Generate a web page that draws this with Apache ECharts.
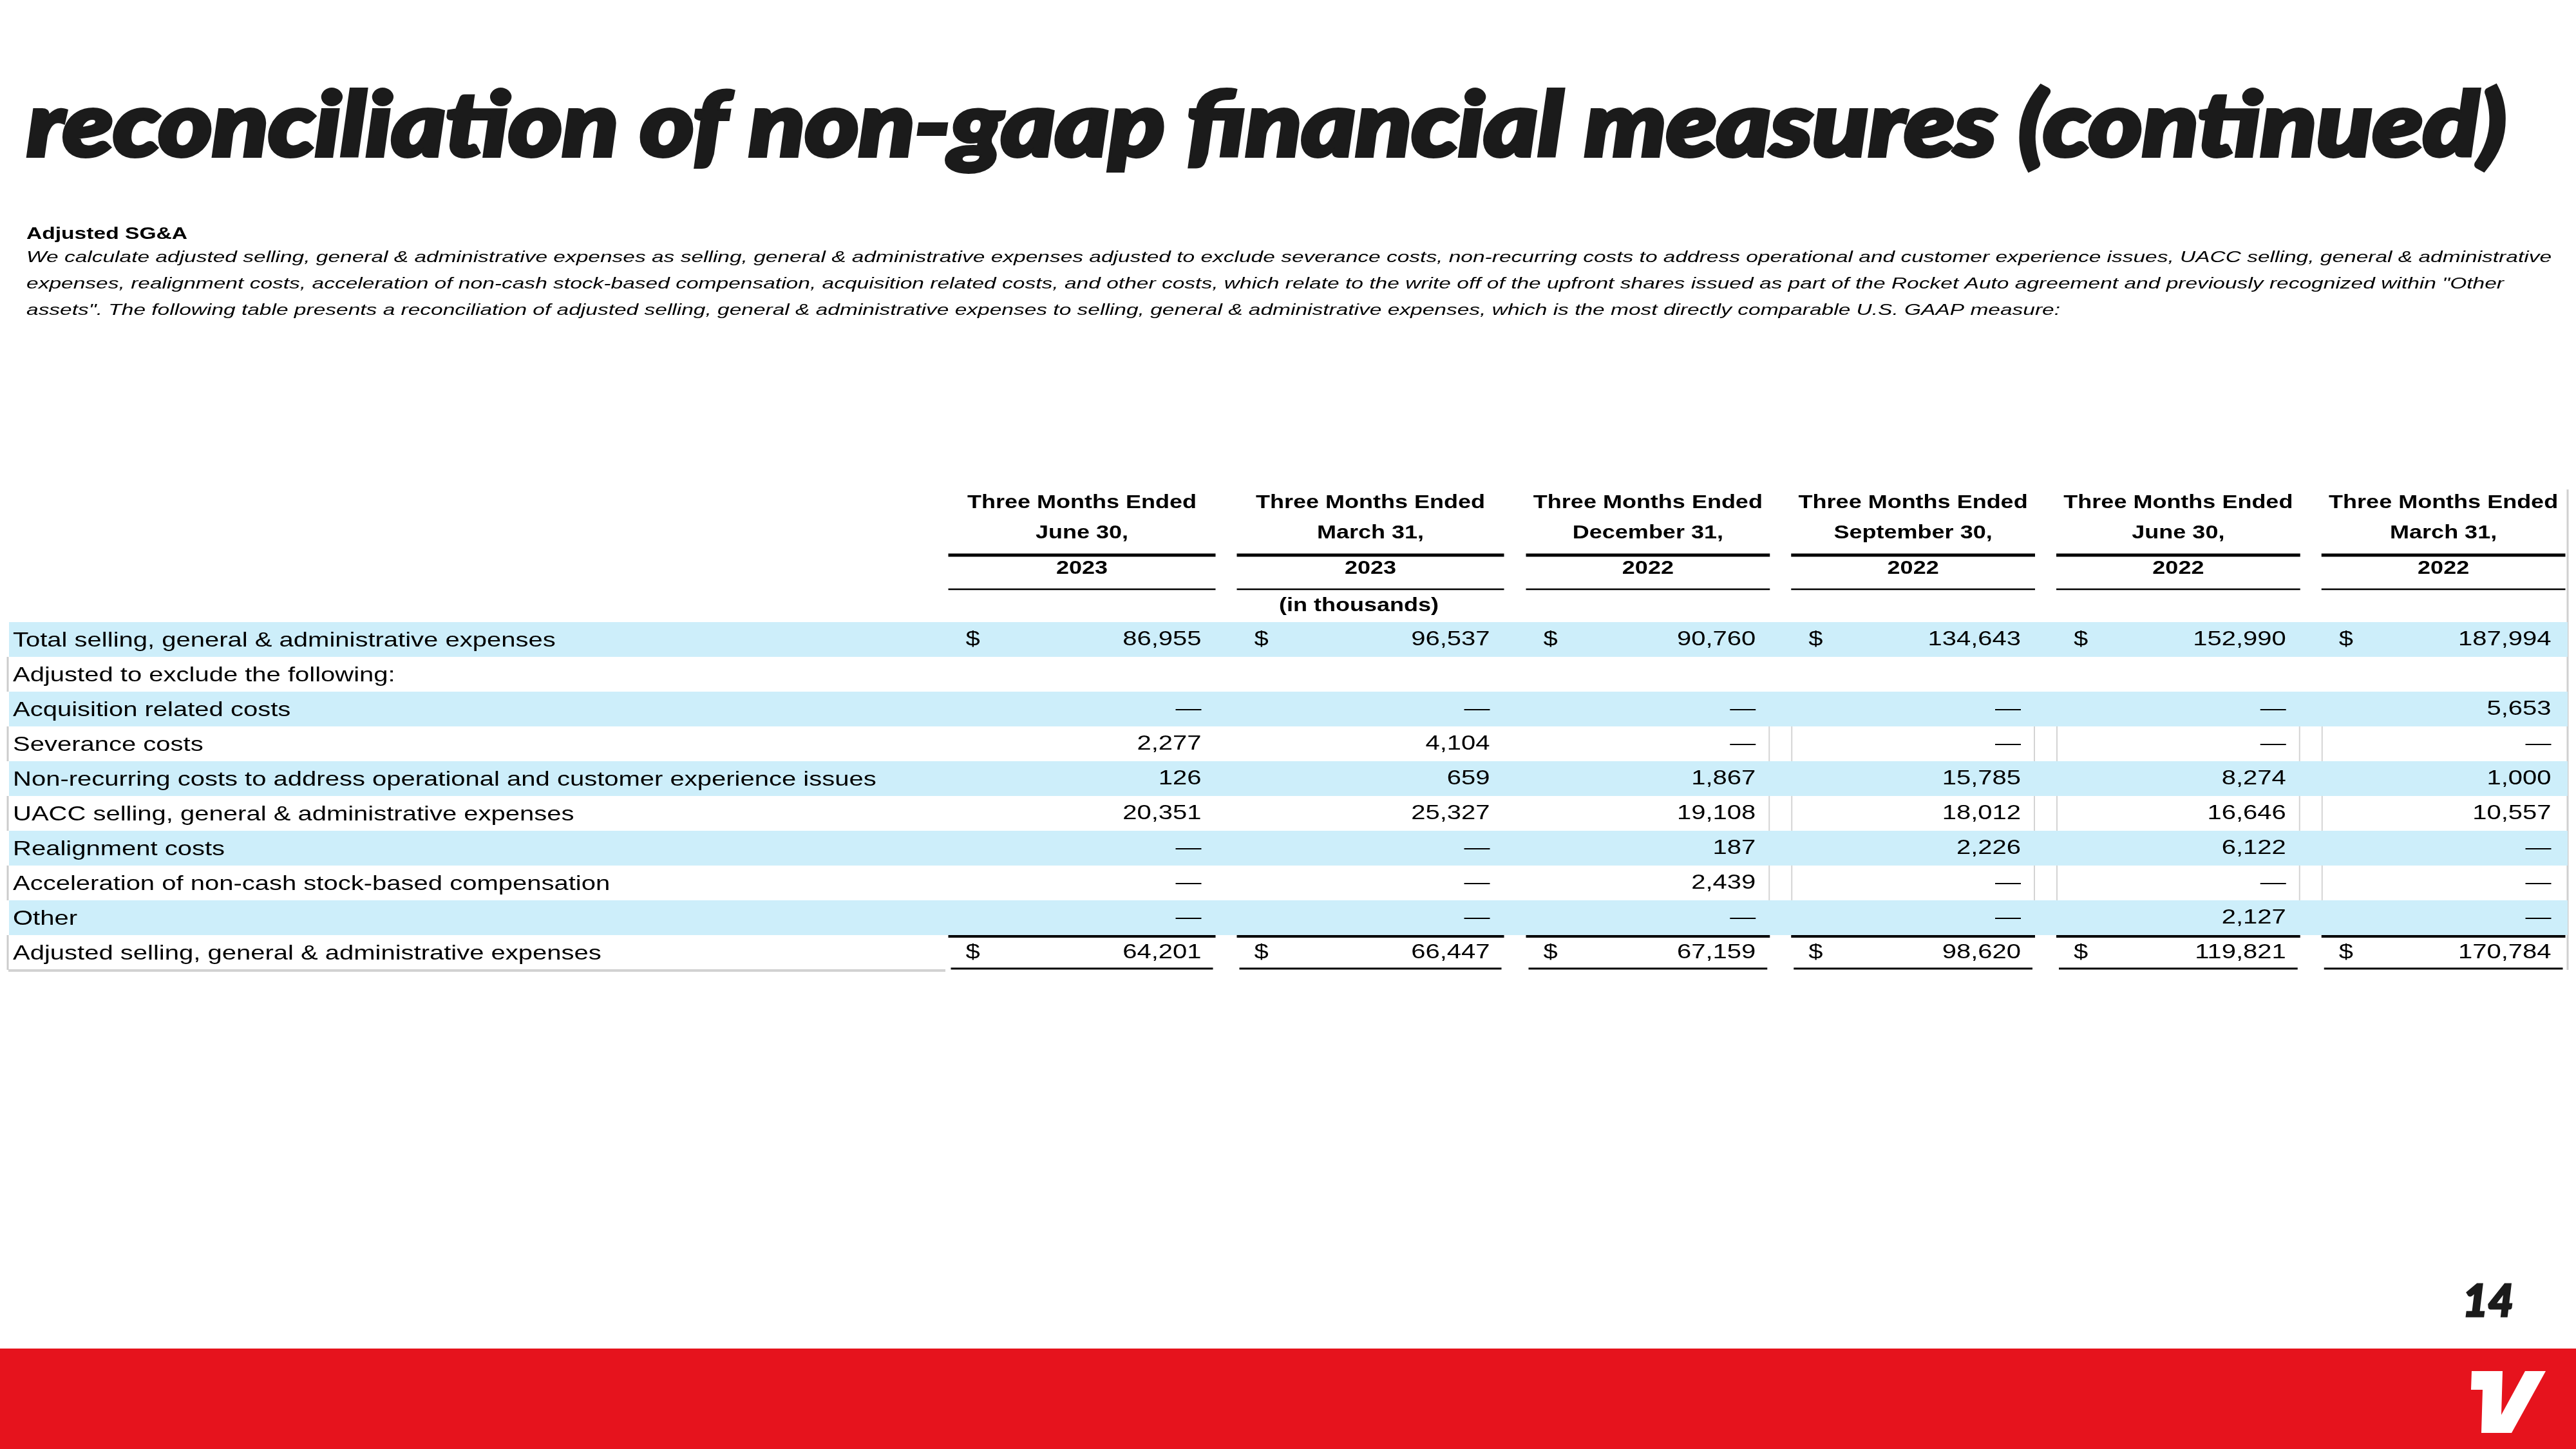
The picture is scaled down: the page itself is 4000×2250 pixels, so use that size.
<!DOCTYPE html>
<html>
<head>
<meta charset="utf-8">
<title>reconciliation of non-gaap financial measures (continued)</title>
<script src="https://cdn.jsdelivr.net/npm/echarts@6/dist/echarts.min.js"></script>
<style>
	html, body { margin: 0; padding: 0; background: #fff; }
	#chart { width: 4000px; height: 2250px; }
</style>
</head>
<body>
<div id="chart"></div>
<script>
	// ---- data (in thousands) ----
	var periods = ['June 30,', 'March 31,', 'December 31,', 'September 30,', 'June 30,', 'March 31,'];
	var years = ['2023', '2023', '2022', '2022', '2022', '2022'];
	var rowLabels = [
		'Total selling, general & administrative expenses',
		'Adjusted to exclude the following:',
		'Acquisition related costs',
		'Severance costs',
		'Non-recurring costs to address operational and customer experience issues',
		'UACC selling, general & administrative expenses',
		'Realignment costs',
		'Acceleration of non-cash stock-based compensation',
		'Other',
		'Adjusted selling, general & administrative expenses'
	];
	var totalSGA = [86955, 96537, 90760, 134643, 152990, 187994];
	var acquisitionCosts = [null, null, null, null, null, 5653];
	var severanceCosts = [2277, 4104, null, null, null, null];
	var nonRecurringCosts = [126, 659, 1867, 15785, 8274, 1000];
	var uaccSGA = [20351, 25327, 19108, 18012, 16646, 10557];
	var realignmentCosts = [null, null, 187, 2226, 6122, null];
	var stockCompAcceleration = [null, null, 2439, null, null, null];
	var otherCosts = [null, null, null, null, 2127, null];
	var adjustedSGA = [64201, 66447, 67159, 98620, 119821, 170784];

	var rowValues = [totalSGA, null, acquisitionCosts, severanceCosts, nonRecurringCosts,
		uaccSGA, realignmentCosts, stockCompAcceleration, otherCosts, adjustedSGA];
	var shadedRows = [0, 2, 4, 6, 8];
	var dollarRows = [0, 9];
	var ruledRows = [3, 5, 7];

	var titleText = 'reconciliation of non-gaap financial measures (continued)';
	var introHeading = 'Adjusted SG&A';
	var introLines = [
		'We calculate adjusted selling, general & administrative expenses as selling, general & administrative expenses adjusted to exclude severance costs, non-recurring costs to address operational and customer experience issues, UACC selling, general & administrative',
		'expenses, realignment costs, acceleration of non-cash stock-based compensation, acquisition related costs, and other costs, which relate to the write off of the upfront shares issued as part of the Rocket Auto agreement and previously recognized within "Other',
		'assets". The following table presents a reconciliation of adjusted selling, general & administrative expenses to selling, general & administrative expenses, which is the most directly comparable U.S. GAAP measure:'
	];
	var pageNo = '14';

	// ---- layout ----
	var TABLE_LEFT = 13, TABLE_RIGHT = 3987;
	var COL_GAP = 33;
	var BAND = '#cdeefa';
	var FONT = '"Liberation Sans", Arial, sans-serif';
	var STRETCH = 1.25;
	var RED = '#e6131d';
	var INK = '#1b1b1b';

	var ctx = document.createElement('canvas').getContext('2d');
	function fit(str, font, width) {
		ctx.font = font;
		return width / ctx.measureText(str).width;
	}
	function fmt(v) {
		return v == null ? '\u2014' : v.toLocaleString('en-US');
	}
	function txt(x, y, str, align, o) {
		o = o || {};
		return {
			type: 'text', x: x, y: y, scaleX: o.scaleX || STRETCH,
			style: {
				text: str, x: 0, y: 0, align: align, verticalAlign: 'middle',
				fontFamily: FONT, fontSize: o.size || 32, fontWeight: o.weight || 'normal',
				fill: '#000'
			}
		};
	}
	function hline(x1, x2, y, w, color) {
		return {type: 'line', shape: {x1: x1, y1: y, x2: x2, y2: y}, style: {stroke: color || '#000', lineWidth: w}};
	}
	function vline(x, y1, y2, w, color) {
		return {type: 'line', shape: {x1: x, y1: y1, x2: x, y2: y2}, style: {stroke: color || '#000', lineWidth: w}};
	}
	function colBox(api, col, row) {
		var c = api.coord([col, row]);
		var s = api.size([1, 1]);
		var w = s[0] - COL_GAP;
		return {cx: c[0], cy: c[1], left: c[0] - w / 2, right: c[0] + w / 2,
			top: c[1] - s[1] / 2, bottom: c[1] + s[1] / 2, rowH: s[1]};
	}

	// row bands + row labels
	function renderRow(params, api) {
		var row = api.value(1);
		var b = colBox(api, 0, row);
		var kids = [];
		if (shadedRows.indexOf(row) >= 0) {
			kids.push({type: 'rect', shape: {x: TABLE_LEFT + 1, y: b.top, width: TABLE_RIGHT - TABLE_LEFT - 1, height: b.rowH}, style: {fill: BAND}});
		} else {
			kids.push(vline(TABLE_LEFT - 1, b.top, b.bottom, 3, '#cccccc'));
		}
		kids.push(txt(TABLE_LEFT + 7, b.cy + 2, rowLabels[row], 'left'));
		if (row === rowLabels.length - 1) {
			kids.push(hline(TABLE_LEFT, 1468, b.bottom + 1, 4, '#d2d2d2'));
		}
		return {type: 'group', children: kids};
	}

	// values, $ signs, rules
	function renderCell(params, api) {
		var col = api.value(0), row = api.value(1), g = api.value(2);
		var b = colBox(api, col, row);
		var vals = rowValues[row];
		var kids = [];
		if (vals) kids.push(txt(b.right - 22, b.cy, fmt(vals[g]), 'right'));
		if (dollarRows.indexOf(row) >= 0) kids.push(txt(b.left + 27, b.cy, '$', 'left'));
		if (row === rowLabels.length - 1) {
			kids.push(hline(b.left, b.right, b.top + 2, 4));
			kids.push(hline(b.left + 4, b.right - 4, b.bottom - 2, 3));
		}
		if (g >= 2 && ruledRows.indexOf(row) >= 0) {
			if (g > 2) kids.push(vline(b.left + 1, b.top, b.bottom, 2, '#d4d4d4'));
			if (g < 5) kids.push(vline(b.right - 1, b.top, b.bottom, 2, '#d4d4d4'));
		}
		return {type: 'group', children: kids};
	}

	// column headers above the grid
	function renderHead(params, api) {
		var col = api.value(0), g = api.value(2);
		var b = colBox(api, col, 0);
		var top = b.top;
		var hs = {size: 30, weight: 'bold', scaleX: 1.2};
		var kids = [
			txt(b.cx, top - 185, 'Three Months Ended', 'center', hs),
			txt(b.cx, top - 138, periods[g], 'center', hs),
			hline(b.left, b.right, top - 104, 5),
			txt(b.cx, top - 83, years[g], 'center', hs),
			hline(b.left, b.right, top - 51, 2.5)
		];
		if (g === 1) kids.push(txt(b.cx - 18, top - 25, '(in thousands)', 'center', hs));
		return {type: 'group', children: kids};
	}

	var cells0 = [], cells1 = [], heads0 = [], heads1 = [];
	periods.forEach(function (p, g) {
		var first = g < 2;
		var ci = first ? g : g - 2;
		(first ? heads0 : heads1).push([ci, 0, g]);
		rowLabels.forEach(function (l, r) {
			(first ? cells0 : cells1).push([ci, r, g]);
		});
	});

	var titleFont = 'italic 900 138px Lato';
	var titleScale = fit(titleText, titleFont, 3850);
	var headFont = 'bold 25px "Liberation Sans"';
	var introFont = 'italic 24px "Liberation Sans"';
	var introWidths = [3921, 3847, 3158];
	var introY = [400, 441, 482];

	var graphic = [
		{type: 'rect', shape: {x: 0, y: 2094, width: 4000, height: 156}, style: {fill: RED}, silent: true},
		{type: 'polygon', shape: {points: [[3838, 2129], [3886, 2129], [3884, 2197], [3921, 2129], [3953, 2129],
			[3900, 2225], [3853, 2225], [3855, 2158], [3837, 2158]]}, style: {fill: '#fff'}},
		{type: 'text', x: 3903, y: 2022, style: {text: pageNo, align: 'right', verticalAlign: 'middle',
			fontFamily: 'Lato', fontStyle: 'italic', fontWeight: 900, fontSize: 68, fill: INK, stroke: INK, lineWidth: 3}},
		{type: 'text', x: 42, y: 197, scaleX: titleScale, style: {text: titleText, x: 0, y: 0, align: 'left', verticalAlign: 'middle',
			fontFamily: 'Lato', fontStyle: 'italic', fontWeight: 900, fontSize: 138, fill: INK, stroke: INK, lineWidth: 6}},
		{type: 'text', x: 41, y: 364, scaleX: fit(introHeading, headFont, 250), style: {text: introHeading, x: 0, y: 0,
			align: 'left', verticalAlign: 'middle', fontFamily: '"Liberation Sans"', fontWeight: 'bold', fontSize: 25, fill: '#000'}},
		{type: 'line', shape: {x1: TABLE_RIGHT, y1: 760, x2: TABLE_RIGHT, y2: 1506}, style: {stroke: '#d0d0d0', lineWidth: 3}}
	];
	introLines.forEach(function (line, i) {
		graphic.push({type: 'text', x: 41, y: introY[i], scaleX: fit(line, introFont, introWidths[i]),
			style: {text: line, x: 0, y: 0, align: 'left', verticalAlign: 'middle', fontFamily: '"Liberation Sans"',
				fontStyle: 'italic', fontSize: 24, fill: '#000'}});
	});

	var option = {
		animation: false,
		backgroundColor: '#fff',
		grid: [
			{left: 1456, top: 966, width: 896, height: 540},
			{left: 2353, top: 966, width: 1653, height: 540}
		],
		xAxis: [
			{type: 'category', gridIndex: 0, data: periods.slice(0, 2), show: false},
			{type: 'category', gridIndex: 1, data: periods.slice(2), show: false}
		],
		yAxis: [
			{type: 'category', gridIndex: 0, data: rowLabels, inverse: true, show: false},
			{type: 'category', gridIndex: 1, data: rowLabels, inverse: true, show: false}
		],
		graphic: graphic,
		series: [
			{type: 'custom', name: 'rows', xAxisIndex: 0, yAxisIndex: 0, z: 1, clip: false,
				data: rowLabels.map(function (l, r) { return [0, r]; }), encode: {x: 0, y: 1}, renderItem: renderRow},
			{type: 'custom', name: 'cells0', xAxisIndex: 0, yAxisIndex: 0, z: 2, clip: false,
				data: cells0, encode: {x: 0, y: 1}, renderItem: renderCell},
			{type: 'custom', name: 'cells1', xAxisIndex: 1, yAxisIndex: 1, z: 2, clip: false,
				data: cells1, encode: {x: 0, y: 1}, renderItem: renderCell},
			{type: 'custom', name: 'heads0', xAxisIndex: 0, yAxisIndex: 0, z: 2, clip: false,
				data: heads0, encode: {x: 0, y: 1}, renderItem: renderHead},
			{type: 'custom', name: 'heads1', xAxisIndex: 1, yAxisIndex: 1, z: 2, clip: false,
				data: heads1, encode: {x: 0, y: 1}, renderItem: renderHead}
		]
	};

	var myChart = echarts.init(document.getElementById('chart'));
	myChart.setOption(option);
</script>
</body>
</html>
